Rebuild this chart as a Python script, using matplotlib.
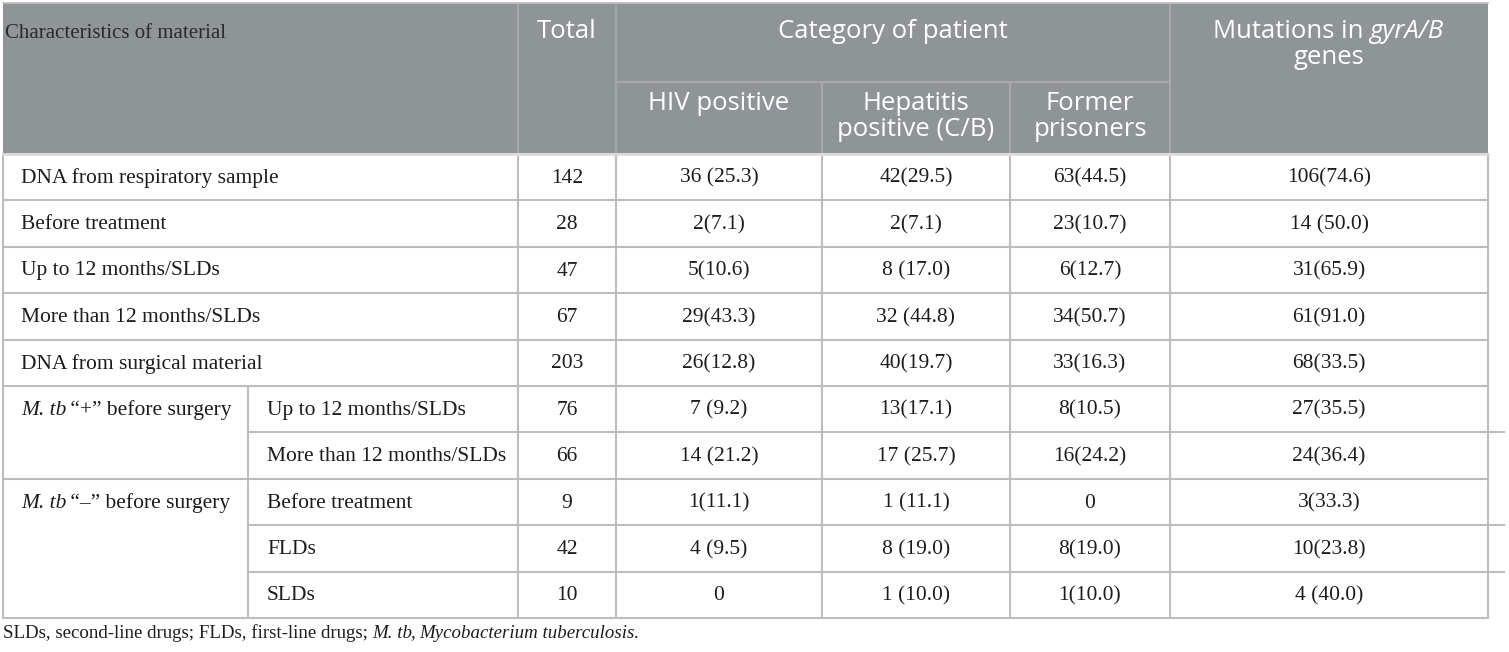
import matplotlib
matplotlib.use("Agg")
from matplotlib import pyplot as plt

# table content
first_level = ["DNA from respiratory sample", "Before treatment", "Up to 12 months/SLDs",
               "More than 12 months/SLDs", "DNA from surgical material"]
groups = [[("M. tb", "italic"), (" “+” before surgery", "normal")],
          [("M. tb", "italic"), (" “–” before surgery", "normal")]]
group_rows = [["Up to 12 months/SLDs", "More than 12 months/SLDs"],
              ["Before treatment", "FLDs", "SLDs"]]
total = [142, 28, 47, 67, 203, 76, 66, 9, 42, 10]
hiv = ["36 (25.3)", "2(7.1)", "5(10.6)", "29(43.3)", "26(12.8)", "7 (9.2)", "14 (21.2)",
       "1(11.1)", "4 (9.5)", "0"]
hepatitis = ["42(29.5)", "2(7.1)", "8 (17.0)", "32 (44.8)", "40(19.7)", "13(17.1)",
             "17 (25.7)", "1 (11.1)", "8 (19.0)", "1 (10.0)"]
prisoners = ["63(44.5)", "23(10.7)", "6(12.7)", "34(50.7)", "33(16.3)", "8(10.5)",
             "16(24.2)", "0", "8(19.0)", "1(10.0)"]
mutations = ["106(74.6)", "14 (50.0)", "31(65.9)", "61(91.0)", "68(33.5)", "27(35.5)",
             "24(36.4)", "3(33.3)", "10(23.8)", "4 (40.0)"]
footnote = [("SLDs, second-line drugs; FLDs, first-line drugs; ", "normal"),
            ("M. tb", "italic"), (", ", "normal"),
            ("Mycobacterium tuberculosis.", "italic")]

W, H = 1509, 652
fig = plt.figure(figsize=(W / 100, H / 100), dpi=100)
ax = fig.add_axes([0, 0, 1, 1])
ax.set_xlim(0, W)
ax.set_ylim(H, 0)
ax.axis("off")
renderer = fig.canvas.get_renderer()


def rich(x, y, parts, ha="left", **kw):
    # draw text pieces with different styles one after another
    items = []
    for s, style in parts:
        t = ax.text(x, y, s, style=style, ha="left", va="center", **kw)
        items.append((t, t.get_window_extent(renderer).width))
    width = sum(w for _, w in items)
    cx = x - width / 2 if ha == "center" else x
    for t, w in items:
        t.set_x(cx)
        cx += w - 1


cols = [3, 518, 616, 822, 1010, 1170, 1488]
sub_x = 248
head_top, head_mid, head_bot = 3, 82, 154
row_h = 46.4
n = len(total)
row_y = [head_bot + i * row_h for i in range(n + 1)]

hdr_bg = "#8f9496"
hdr_line = "#a9adae"
grid = "#bdbdbd"
txt = "#1c1c1c"
serif = "Liberation Serif"
sans = "Open Sans"

# header
ax.add_patch(plt.Rectangle((cols[0], head_top), cols[-1] - cols[0], head_bot - head_top,
                           facecolor=hdr_bg, edgecolor="none"))
for x in [cols[1], cols[2], cols[5]]:
    ax.plot([x, x], [head_top, head_bot], color=hdr_line, lw=1.2)
for x in [cols[3], cols[4]]:
    ax.plot([x, x], [head_mid, head_bot], color=hdr_line, lw=1.2)
ax.plot([cols[2], cols[5]], [head_mid, head_mid], color=hdr_line, lw=1.2)
ax.plot([cols[0], cols[-1]], [head_top, head_top], color=grid, lw=1.2)

ax.text(5, 33, "Characteristics of material", family=serif, fontsize=15,
        color="#2b2b2b", va="center", ha="left")
hs = 18.5
hdr = dict(family=sans, fontsize=hs, color="white", ha="center", va="center")
ax.text((cols[1] + cols[2]) / 2, 31, "Total", **hdr)
ax.text((cols[2] + cols[5]) / 2, 31, "Category of patient", **hdr)
rich((cols[5] + cols[6]) / 2, 31, [("Mutations in ", "normal"), ("gyrA/B", "italic")],
     ha="center", family=sans, fontsize=hs, color="white")
ax.text((cols[5] + cols[6]) / 2, 57, "genes", **hdr)
ax.text((cols[2] + cols[3]) / 2, 103, "HIV positive", **hdr)
ax.text((cols[3] + cols[4]) / 2, 103, "Hepatitis", **hdr)
ax.text((cols[3] + cols[4]) / 2, 129, "positive (C/B)", **hdr)
ax.text((cols[4] + cols[5]) / 2, 103, "Former", **hdr)
ax.text((cols[4] + cols[5]) / 2, 129, "prisoners", **hdr)

# body lines
lw = 1.5
ax.plot([cols[0], cols[0]], [head_bot, row_y[-1]], color=grid, lw=lw)
ax.plot([cols[-1], cols[-1]], [head_bot, row_y[-1]], color=grid, lw=lw)
for x in cols[1:-1]:
    ax.plot([x, x], [head_bot, row_y[-1]], color=grid, lw=lw)
g_start = len(first_level)
ax.plot([sub_x, sub_x], [row_y[g_start], row_y[-1]], color=grid, lw=lw)

inner = []
start = g_start
for rows in group_rows:
    inner += list(range(start + 1, start + len(rows)))
    start += len(rows)
for i, y in enumerate(row_y):
    if i in inner:
        ax.plot([sub_x, cols[-1] + 16], [y, y], color=grid, lw=lw)
    else:
        ax.plot([cols[0], cols[-1]], [y, y], color=grid, lw=lw)
ax.plot([cols[0], cols[-1]], [head_bot, head_bot], color="#dcdcdc", lw=2)

# body text
bs = 15.5
labels = list(first_level)
for rows in group_rows:
    labels += rows
for i in range(n):
    yc = (row_y[i] + row_y[i + 1]) / 2 + 1
    lx = 21 if i < g_start else sub_x + 19
    ax.text(lx, yc, labels[i], family=serif, fontsize=bs, color=txt, ha="left", va="center")
    for j, val in enumerate([total[i], hiv[i], hepatitis[i], prisoners[i], mutations[i]]):
        ax.text((cols[j + 1] + cols[j + 2]) / 2, yc, str(val), family=serif, fontsize=bs,
                color=txt, ha="center", va="center")

start = g_start
for label, rows in zip(groups, group_rows):
    yc = (row_y[start] + row_y[start + 1]) / 2 + 1
    rich(21, yc, label, family=serif, fontsize=bs, color=txt)
    start += len(rows)

rich(3, 633, footnote, family=serif, fontsize=13.6, color=txt)

fig.savefig("out.png", dpi=100)
